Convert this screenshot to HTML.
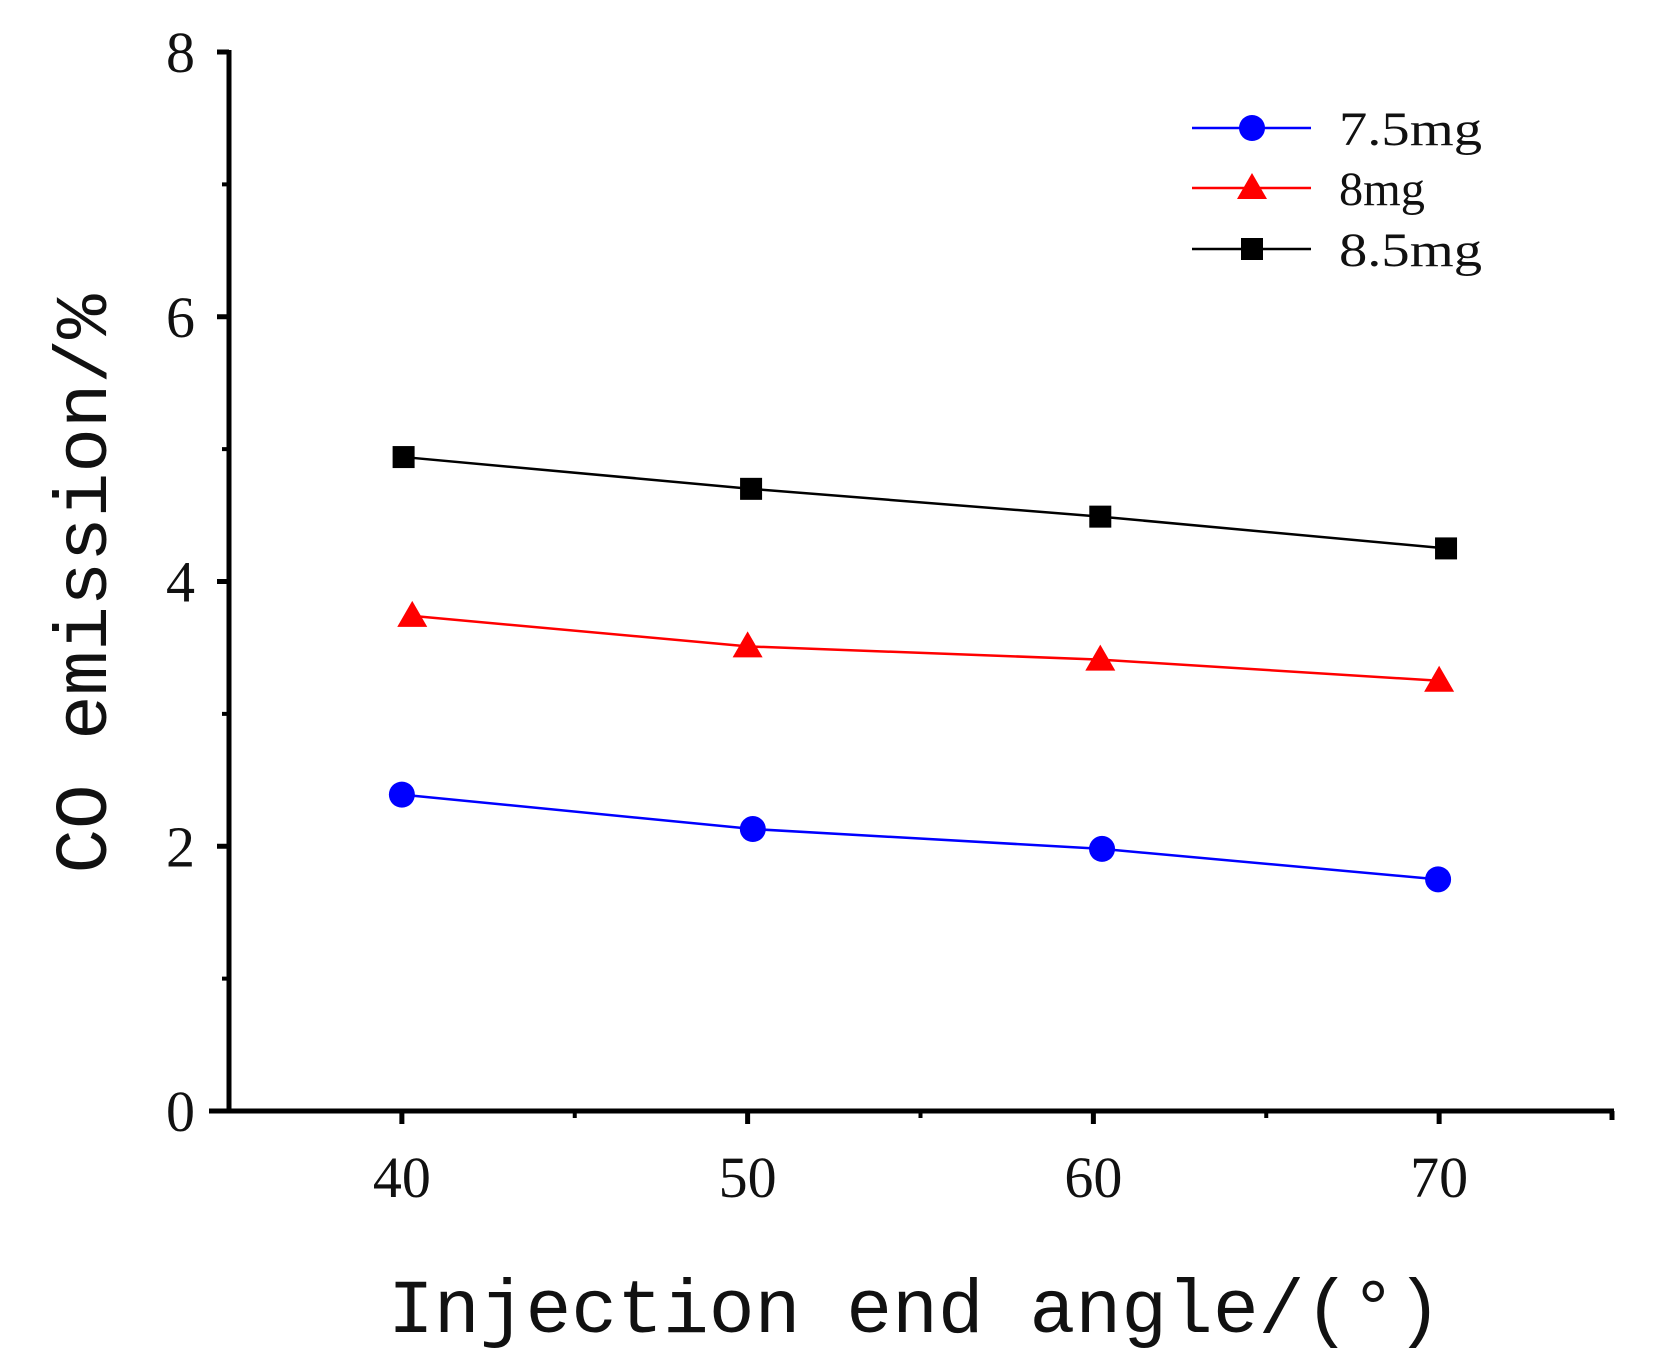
<!DOCTYPE html>
<html><head><meta charset="utf-8"><style>
html,body{margin:0;padding:0;background:#fff;}
svg{display:block;}
text{font-family:"Liberation Serif",serif;fill:#111;}
.mono{font-family:"Liberation Mono",monospace;}
</style></head><body>
<svg id="chart" width="1670" height="1368" viewBox="0 0 1670 1368" xmlns="http://www.w3.org/2000/svg">
<g id="axes"></g>
<g id="series"></g>
<g id="legend"></g>
<text class="mono" x="915" y="1332" font-size="76" text-anchor="middle" textLength="1054" lengthAdjust="spacingAndGlyphs">Injection end angle/(°)</text>
<text class="mono" transform="translate(106,584) rotate(-90)" font-size="74" text-anchor="middle" textLength="579" lengthAdjust="spacingAndGlyphs">CO emission/%</text>
</svg>
<script>
const xTicks = [40, 50, 60, 70];
const xMinor = [45, 55, 65];
const yTicks = [0, 2, 4, 6, 8];
const yMinor = [1, 3, 5, 7];
const seriesNames = ["7.5mg", "8mg", "8.5mg"];
const xBlue = [40.0, 50.15, 60.25, 69.97];
const yBlue = [2.39, 2.13, 1.98, 1.75];
const xRed = [40.3, 50.0, 60.2, 70.0];
const yRed = [3.74, 3.51, 3.41, 3.25];
const xBlack = [40.05, 50.1, 60.2, 70.2];
const yBlack = [4.94, 4.70, 4.49, 4.25];

const NS = "http://www.w3.org/2000/svg";
const X0 = 229, X1 = 1612, XMIN = 35, XMAX = 75;
const Y0 = 1111, Y1 = 52, YMIN = 0, YMAX = 8;
function sx(v){ return X0 + (v - XMIN) / (XMAX - XMIN) * (X1 - X0); }
function sy(v){ return Y0 - (v - YMIN) / (YMAX - YMIN) * (Y0 - Y1); }
function mk(tag, attrs, parent){
  const e = document.createElementNS(NS, tag);
  for (const k in attrs) e.setAttribute(k, attrs[k]);
  parent.appendChild(e);
  return e;
}
const axes = document.getElementById("axes");
let e;
e = mk("line", {x1: X0, y1: Y1 - 2, x2: X0, y2: Y0 + 2, stroke: "#000", "stroke-width": 5}, axes);


e = mk("line", {x1: X0 - 20, y1: Y0, x2: X1 + 2, y2: Y0, stroke: "#000", "stroke-width": 5}, axes);


yTicks.forEach(v => {
  const t = mk("line", {x1: X0 - 12, y1: sy(v), x2: X0, y2: sy(v), stroke: "#000", "stroke-width": 5}, axes);
  
  
  const l = mk("text", {x: 195, y: sy(v) + 20, "font-size": 58, "text-anchor": "end"}, axes);
  l.textContent = v;
  
  
});
yMinor.forEach(v => {
  const t = mk("line", {x1: X0 - 7, y1: sy(v), x2: X0, y2: sy(v), stroke: "#000", "stroke-width": 4}, axes);
  
  
});
xTicks.forEach(v => {
  const t = mk("line", {x1: sx(v), y1: Y0, x2: sx(v), y2: Y0 + 13, stroke: "#000", "stroke-width": 5}, axes);
  
  
  const l = mk("text", {x: sx(v), y: 1197, "font-size": 58, "text-anchor": "middle"}, axes);
  l.textContent = v;
  
  
});
xMinor.forEach(v => {
  const t = mk("line", {x1: sx(v), y1: Y0, x2: sx(v), y2: Y0 + 7, stroke: "#000", "stroke-width": 4}, axes);
  
  
});
t = mk("line", {x1: X1, y1: Y0, x2: X1, y2: Y0 + 9, stroke: "#000", "stroke-width": 5}, axes);



function marker(kind, cx, cy, color, parent){
  let m;
  if (kind === "circle") m = mk("circle", {cx: cx, cy: cy, r: 13, fill: color}, parent);
  else if (kind === "tri") m = mk("polygon", {points: `${cx},${cy-15} ${cx+15},${cy+11} ${cx-15},${cy+11}`, fill: color}, parent);
  else m = mk("rect", {x: cx - 11, y: cy - 11, width: 22, height: 22, fill: color}, parent);
  return m;
}
const ser = document.getElementById("series");
const defs = [
  {xs: xBlue, ys: yBlue, color: "#0000ff", kind: "circle", name: "blue"},
  {xs: xRed, ys: yRed, color: "#ff0000", kind: "tri", name: "red"},
  {xs: xBlack, ys: yBlack, color: "#000000", kind: "square", name: "black"}
];
defs.forEach((d, i) => {
  const g = mk("g", {}, ser);
  
  
  const pts = d.xs.map((x, j) => sx(x) + "," + sy(d.ys[j])).join(" ");
  const pl = mk("polyline", {points: pts, fill: "none", stroke: d.color, "stroke-width": 2.5}, g);
  
  
  d.xs.forEach((x, j) => {
    const m = marker(d.kind, sx(x), sy(d.ys[j]), d.color, g);
    
    
  });
});
const leg = document.getElementById("legend");
const legY = [128, 188, 249];
defs.forEach((d, i) => {
  const g = mk("g", {}, leg);
  
  
  mk("line", {x1: 1192, y1: legY[i], x2: 1311, y2: legY[i], stroke: d.color, "stroke-width": 2.5}, g);
  marker(d.kind, 1252, legY[i], d.color, g);
  const tx = mk("text", {x: 1339, y: legY[i] + 17, "font-size": 48}, g);
  tx.textContent = seriesNames[i];
  if (seriesNames[i].length === 5) tx.setAttribute("textLength", 143);
  else tx.setAttribute("textLength", 86);
  tx.setAttribute("lengthAdjust", "spacingAndGlyphs");
});
</script>
</body></html>
